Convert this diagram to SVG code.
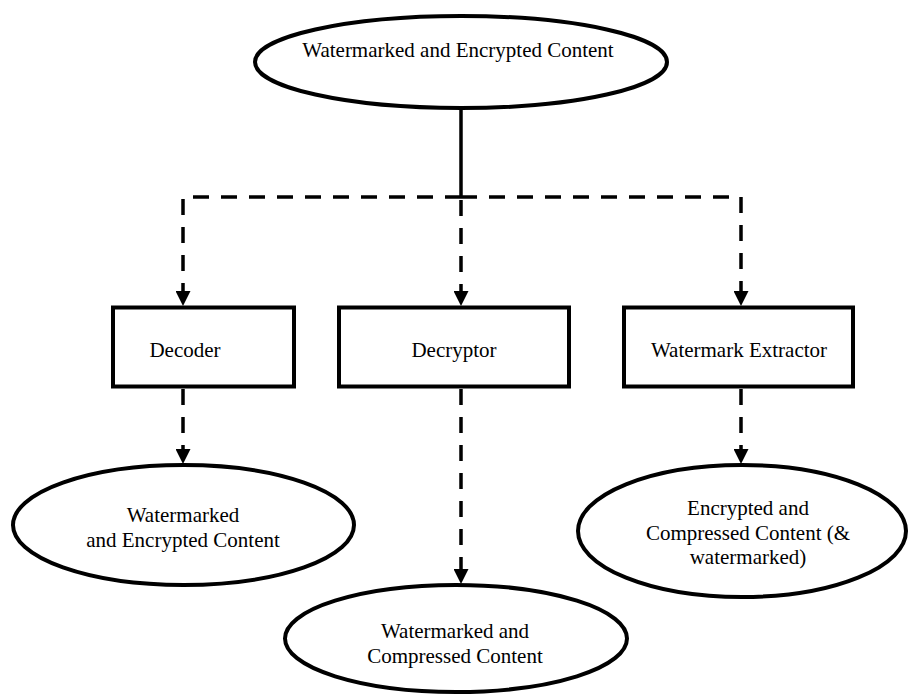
<svg xmlns="http://www.w3.org/2000/svg" width="908" height="698" viewBox="0 0 908 698">
  <style>
    .shape { fill: #ffffff; stroke: #000000; stroke-width: 4; }
    .label { font-family: "Liberation Serif", "Times New Roman", serif; font-size: 21px; fill: #000000; text-anchor: middle; }
    .solid { fill: none; stroke: #000000; stroke-width: 3.5; }
    .dashed { fill: none; stroke: #000000; stroke-width: 3.5; stroke-dasharray: 16 12; }
  </style>
  <defs>
    <marker id="arrow" viewBox="0 0 15 15" refX="0" refY="7.5" markerWidth="15" markerHeight="15" markerUnits="userSpaceOnUse" orient="auto">
      <path d="M0,0 L15,7.5 L0,15 z" fill="#000000"/>
    </marker>
  </defs>

  <rect width="908" height="698" fill="#ffffff"/>

  <!-- connectors -->
  <g id="connectors">
    <path class="solid" d="M461,108 V197"/>
    <path class="dashed" d="M461,197 H183 V291" marker-end="url(#arrow)"/>
    <path class="dashed" d="M461,197 H741 V291" marker-end="url(#arrow)"/>
    <path class="dashed" d="M461,200 V291" marker-end="url(#arrow)"/>
    <path class="dashed" d="M183,389 V449" marker-end="url(#arrow)"/>
    <path class="dashed" d="M461,389 V569" marker-end="url(#arrow)"/>
    <path class="dashed" d="M741,389 V449" marker-end="url(#arrow)"/>
  </g>

  <!-- source content -->
  <g id="source">
    <ellipse class="shape" cx="461" cy="62" rx="206" ry="46"/>
    <text class="label" x="458" y="57">Watermarked and Encrypted Content</text>
  </g>

  <!-- processing stages -->
  <g id="decoder">
    <rect class="shape" x="113" y="307.5" width="181" height="79"/>
    <text class="label" x="185" y="357">Decoder</text>
  </g>
  <g id="decryptor">
    <rect class="shape" x="339" y="307.5" width="230" height="79"/>
    <text class="label" x="454" y="357">Decryptor</text>
  </g>
  <g id="extractor">
    <rect class="shape" x="624" y="307.5" width="229" height="79"/>
    <text class="label" x="739" y="357">Watermark Extractor</text>
  </g>

  <!-- outputs -->
  <g id="out-decoder">
    <ellipse class="shape" cx="183.5" cy="525" rx="170.5" ry="60"/>
    <text class="label" x="183" y="522">Watermarked</text>
    <text class="label" x="183" y="547">and Encrypted Content</text>
  </g>
  <g id="out-decryptor">
    <ellipse class="shape" cx="456" cy="638.5" rx="171" ry="53.5"/>
    <text class="label" x="455" y="638">Watermarked and</text>
    <text class="label" x="455" y="663">Compressed Content</text>
  </g>
  <g id="out-extractor">
    <ellipse class="shape" cx="742" cy="531" rx="164" ry="66"/>
    <text class="label" x="748" y="515">Encrypted and</text>
    <text class="label" x="748" y="540">Compressed Content (&amp;</text>
    <text class="label" x="748" y="564">watermarked)</text>
  </g>
</svg>
